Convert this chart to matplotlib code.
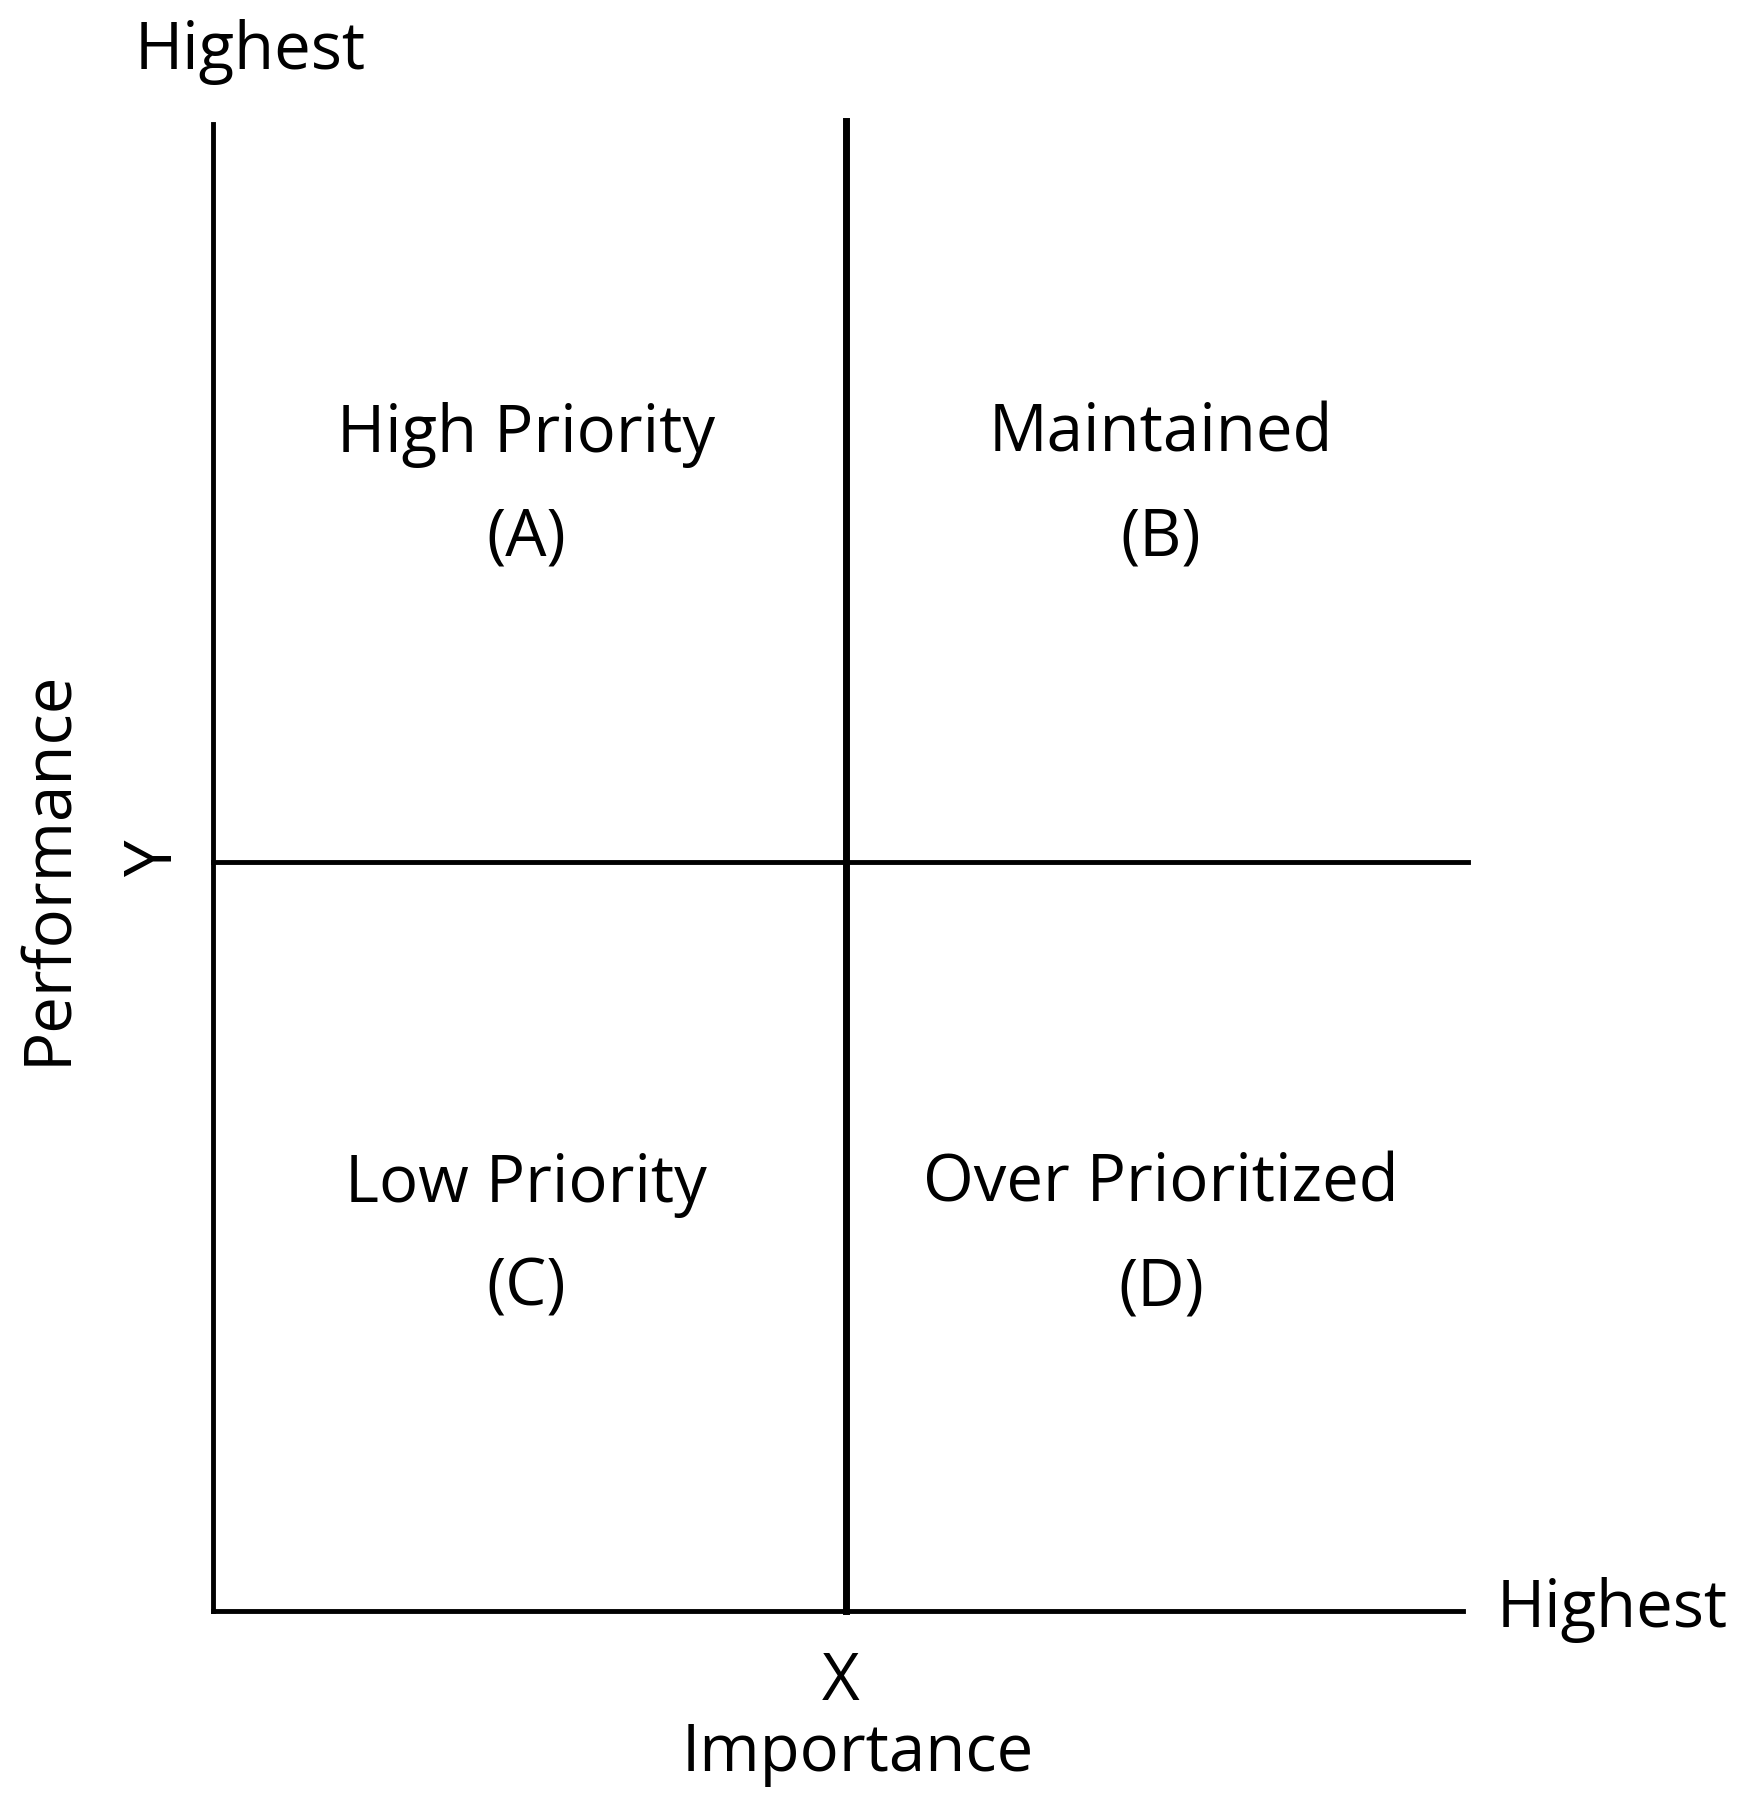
import matplotlib
matplotlib.use("Agg")
import matplotlib.pyplot as plt

# quadrant labels (top-left, top-right, bottom-left, bottom-right)
quad_names = ["High Priority", "Maintained", "Low Priority", "Over Prioritized"]
quad_codes = ["(A)", "(B)", "(C)", "(D)"]
x_label, y_label = "Importance", "Performance"
x_mid, y_mid = "X", "Y"
end_label = "Highest"

plt.rcParams['font.family'] = ['Open Sans', 'DejaVu Sans']

fig = plt.figure(figsize=(17.39, 18.04), dpi=100)
ax = fig.add_axes([0, 0, 1, 1])
W, H = 1510, 1565
ax.set_xlim(0, W)
ax.set_ylim(H, 0)
ax.axis("off")

lw = 3.5
ax.plot([185, 185], [108, 1398], color="black", lw=lw)
ax.plot([185, 1270], [1398, 1398], color="black", lw=lw)
ax.plot([735, 735], [105, 1398], color="black", lw=lw + 1.5)
ax.plot([185, 1275], [748, 748], color="black", lw=lw)

fs = 47
centers = [(457, 377), (1008, 377), (457, 1028), (1008, 1028)]
for (cx, cy), name, code in zip(centers, quad_names, quad_codes):
    ax.text(cx, cy, name, ha="center", va="center", fontsize=fs)
    ax.text(cx, cy + 90, code, ha="center", va="center", fontsize=fs)

ax.text(217, 45, end_label, ha="center", va="center", fontsize=fs)
ax.text(1400, 1397, end_label, ha="center", va="center", fontsize=fs)
ax.text(730, 1460, x_mid, ha="center", va="center", fontsize=fs)
ax.text(745, 1522, x_label, ha="center", va="center", fontsize=fs)
ax.text(135, 745, y_mid, ha="center", va="center", fontsize=fs, rotation=90)
ax.text(42, 752, y_label, ha="center", va="center", fontsize=fs, rotation=90)

fig.savefig("out.png", dpi=100)
